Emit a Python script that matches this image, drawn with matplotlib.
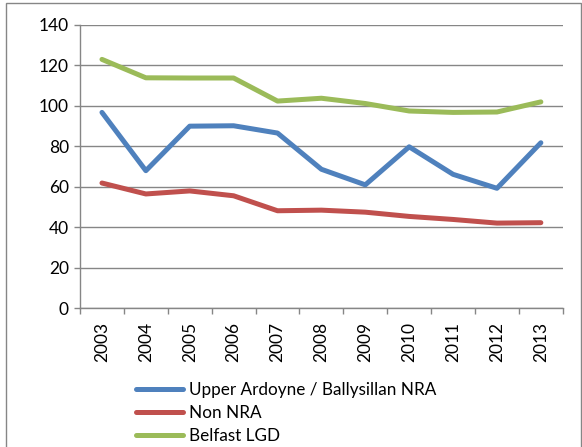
import numpy as np
import matplotlib
matplotlib.use("Agg")
import matplotlib.pyplot as plt
from matplotlib.patches import Rectangle

years = ["2003", "2004", "2005", "2006", "2007", "2008", "2009", "2010", "2011", "2012", "2013"]
upper_ardoyne = [96.8, 68.0, 90.0, 90.2, 86.6, 68.7, 61.0, 79.8, 66.2, 59.3, 81.8]
non_nra = [61.9, 56.5, 58.0, 55.6, 48.2, 48.5, 47.5, 45.4, 43.9, 42.1, 42.3]
belfast_lgd = [123.0, 113.9, 113.8, 113.8, 102.4, 103.8, 101.2, 97.5, 96.8, 97.0, 102.0]

labels = ["Upper Ardoyne / Ballysillan NRA", "Non NRA", "Belfast LGD"]
colors = ["#4F81BD", "#C0504D", "#9BBB59"]

plt.rcParams['font.family'] = ['Lato', 'DejaVu Sans']

fig = plt.figure(figsize=(5.82, 4.47), dpi=100)
ax = fig.add_axes([0.1375, 0.3103, 0.8295, 0.6338])

x = np.arange(len(years)) + 0.5
for vals, lab, c in zip([upper_ardoyne, non_nra, belfast_lgd], labels, colors):
    ax.plot(x, vals, color=c, lw=3.6, label=lab, solid_capstyle='round', solid_joinstyle='round')

ax.set_xlim(0, len(years))
ax.set_ylim(0, 140)
ax.set_yticks(range(0, 141, 20))
ax.set_xticks(x)
ax.set_xticklabels(years, rotation=90)
ax.set_xticks(np.arange(len(years) + 1), minor=True)
ax.tick_params(axis='x', which='major', length=0, pad=10, labelsize=12.5)
ax.tick_params(axis='x', which='minor', length=4, color='#868686', width=1)
ax.tick_params(axis='y', length=4, color='#868686', width=1, labelsize=12.5, pad=4)
ax.yaxis.grid(True, color='#868686', lw=1)
ax.set_axisbelow(True)
for s in ['top', 'right']:
    ax.spines[s].set_visible(False)
for s in ['left', 'bottom']:
    ax.spines[s].set_color('#868686')
    ax.spines[s].set_linewidth(1)

fig.legend(loc='upper left', bbox_to_anchor=(0.233, 0.146), frameon=False,
           fontsize=12.3, handlelength=2.8, handletextpad=0.3, labelspacing=0.42,
           borderpad=0, borderaxespad=0)

fig.patches.append(Rectangle((6 / 582, -0.01), 575 / 582, 1 - 3 / 447 + 0.01,
                             transform=fig.transFigure, fill=False,
                             edgecolor='#868686', lw=1))

fig.savefig("out.png", dpi=100)
